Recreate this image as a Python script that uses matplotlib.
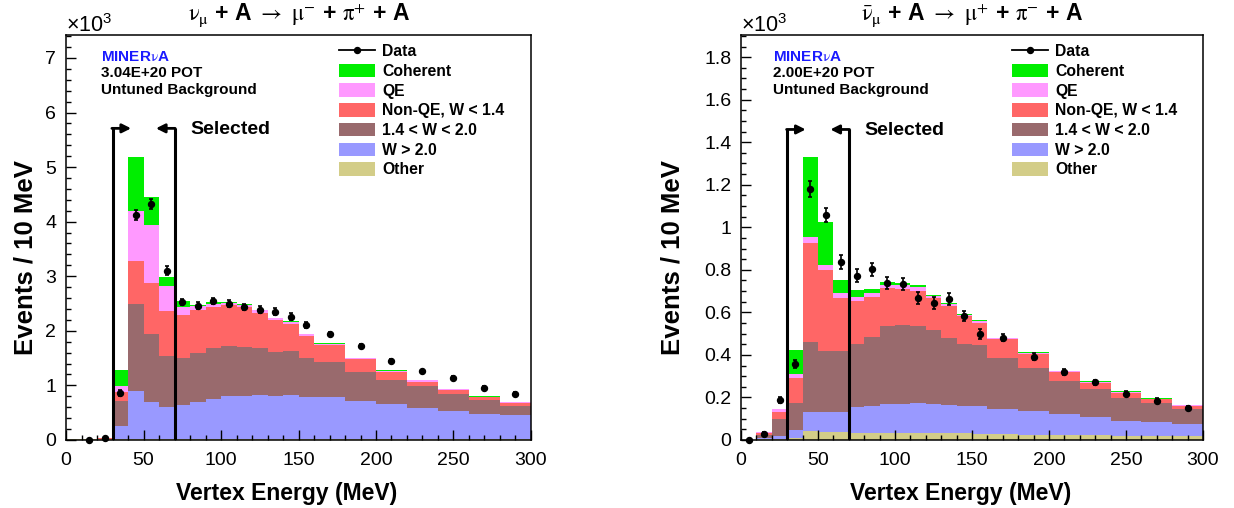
import numpy as np
import matplotlib
matplotlib.use("Agg")
import matplotlib.pyplot as plt
from matplotlib.patches import Patch
from matplotlib.lines import Line2D

plt.rcParams['font.family'] = 'Liberation Sans'
plt.rcParams['mathtext.fontset'] = 'custom'
plt.rcParams['mathtext.rm'] = 'Liberation Sans'
plt.rcParams['mathtext.it'] = 'Liberation Sans'
plt.rcParams['mathtext.bf'] = 'Liberation Sans:bold'

# bin edges (MeV): 10 MeV bins up to 160, then 20 MeV bins; y in 10^3 events / 10 MeV
edges = [0, 10, 20, 30, 40, 50, 60, 70, 80, 90, 100, 110, 120, 130, 140, 150, 160,
         180, 200, 220, 240, 260, 280, 300]

components = ["Other", "W > 2.0", "1.4 < W < 2.0", "Non-QE, W < 1.4", "QE", "Coherent"]
colors = ["#d3cd88", "#9999ff", "#996a6d", "#ff6666", "#ff99ff", "#00ee00"]

# neutrino sample
nu_other = [0.01, 0.01, 0.01, 0.02, 0.02, 0.02, 0.02, 0.02, 0.02, 0.02, 0.02, 0.02,
            0.02, 0.02, 0.02, 0.02, 0.02, 0.02, 0.02, 0.02, 0.02, 0.02, 0.02]
nu_whigh = [0.0, 0.0, 0.0, 0.24, 0.88, 0.68, 0.59, 0.62, 0.68, 0.73, 0.79, 0.79,
            0.80, 0.79, 0.80, 0.77, 0.76, 0.69, 0.63, 0.57, 0.51, 0.46, 0.43]
nu_wmid = [0.0, 0.005, 0.015, 0.45, 1.59, 1.24, 0.92, 0.87, 0.89, 0.94, 0.91, 0.90,
           0.87, 0.81, 0.81, 0.72, 0.64, 0.54, 0.45, 0.39, 0.31, 0.25, 0.18]
nu_wlow = [0.0, 0.005, 0.015, 0.16, 0.79, 0.94, 0.84, 0.78, 0.79, 0.75, 0.75, 0.72,
           0.64, 0.57, 0.49, 0.40, 0.32, 0.23, 0.15, 0.09, 0.08, 0.05, 0.04]
nu_qe = [0.0, 0.0, 0.0, 0.11, 0.91, 1.06, 0.45, 0.15, 0.07, 0.06, 0.04, 0.05,
         0.05, 0.04, 0.05, 0.03, 0.02, 0.02, 0.02, 0.02, 0.01, 0.01, 0.02]
nu_coh = [0.0, 0.0, 0.0, 0.31, 1.00, 0.52, 0.17, 0.11, 0.03, 0.03, 0.02, 0.01,
          0.01, 0.01, 0.01, 0.01, 0.01, 0.01, 0.01, 0.01, 0.01, 0.01, 0.01]
nu_data = [np.nan, 0.0, 0.03, 0.86, 4.12, 4.33, 3.10, 2.53, 2.46, 2.55, 2.50, 2.44,
           2.39, 2.35, 2.26, 2.11, 1.94, 1.72, 1.45, 1.26, 1.14, 0.96, 0.84]
nu_err = [0.0, 0.01, 0.02, 0.05, 0.09, 0.09, 0.08, 0.06, 0.06, 0.06, 0.06, 0.06,
          0.06, 0.06, 0.06, 0.06, 0.04, 0.04, 0.04, 0.03, 0.03, 0.03, 0.03]

# antineutrino sample
nub_other = [0.0, 0.005, 0.003, 0.011, 0.042, 0.036, 0.035, 0.031, 0.031, 0.031, 0.031, 0.031,
             0.031, 0.031, 0.031, 0.028, 0.026, 0.025, 0.024, 0.022, 0.020, 0.019, 0.017]
nub_whigh = [0.0, 0.005, 0.017, 0.036, 0.091, 0.097, 0.098, 0.123, 0.129, 0.137, 0.138, 0.141,
             0.137, 0.132, 0.130, 0.132, 0.120, 0.111, 0.098, 0.085, 0.071, 0.067, 0.058]
nub_wmid = [0.0, 0.015, 0.077, 0.125, 0.329, 0.287, 0.285, 0.296, 0.326, 0.368, 0.372, 0.366,
            0.349, 0.318, 0.290, 0.287, 0.241, 0.204, 0.157, 0.131, 0.108, 0.086, 0.071]
nub_wlow = [0.0, 0.009, 0.036, 0.118, 0.466, 0.380, 0.248, 0.204, 0.188, 0.177, 0.169, 0.162,
            0.149, 0.151, 0.131, 0.105, 0.086, 0.064, 0.042, 0.031, 0.023, 0.019, 0.015]
nub_qe = [0.0, 0.003, 0.013, 0.019, 0.028, 0.023, 0.024, 0.020, 0.019, 0.016, 0.017, 0.020,
          0.011, 0.008, 0.006, 0.008, 0.005, 0.006, 0.003, 0.005, 0.005, 0.003, 0.003]
nub_coh = [0.0, 0.0, 0.0, 0.114, 0.376, 0.203, 0.062, 0.031, 0.017, 0.012, 0.010, 0.007,
           0.003, 0.003, 0.002, 0.003, 0.002, 0.002, 0.002, 0.001, 0.001, 0.001, 0.001]
nub_data = [0.0, 0.027, 0.188, 0.356, 1.18, 1.058, 0.838, 0.773, 0.802, 0.740, 0.733, 0.666,
            0.643, 0.663, 0.583, 0.498, 0.481, 0.392, 0.320, 0.271, 0.218, 0.185, 0.152]
nub_err = [0.005, 0.008, 0.012, 0.02, 0.037, 0.035, 0.033, 0.03, 0.03, 0.028, 0.028, 0.028,
           0.027, 0.027, 0.025, 0.025, 0.016, 0.015, 0.013, 0.012, 0.010, 0.010, 0.009]

cut_low, cut_high = 30, 70

panels = [
    dict(stack=[nu_other, nu_whigh, nu_wmid, nu_wlow, nu_qe, nu_coh], data=nu_data, err=nu_err,
         ymax=7.42, major=1, minor=0.2, pot="3.04E+20 POT", cut_y=5.71, sel_y=5.68,
         title=r"$\mathrm{\nu_{\mu}}$ + A $\rightarrow$ $\mathrm{\mu^{-}}$ + $\mathrm{\pi^{+}}$ + A",
         rect=[0.0535, 0.134, 0.3768, 0.797], txt_x=0.0746, ylab_x=-0.062),
    dict(stack=[nub_other, nub_whigh, nub_wmid, nub_wlow, nub_qe, nub_coh], data=nub_data, err=nub_err,
         ymax=1.904, major=0.2, minor=0.05, pot="2.00E+20 POT", cut_y=1.46, sel_y=1.457,
         title=r"$\mathrm{\bar{\nu}_{\mu}}$ + A $\rightarrow$ $\mathrm{\mu^{+}}$ + $\mathrm{\pi^{-}}$ + A",
         rect=[0.6005, 0.134, 0.3744, 0.797], txt_x=0.069, ylab_x=-0.123),
]

fig = plt.figure(figsize=(12.34, 5.08), dpi=100)
centers = 0.5 * (np.array(edges[:-1]) + np.array(edges[1:]))

for p in panels:
    ax = fig.add_axes(p["rect"])
    base = np.zeros(len(centers))
    for vals, col in zip(p["stack"], colors):
        top = base + np.array(vals)
        ax.stairs(top, edges, baseline=base, fill=True, color=col, linewidth=0)
        base = top
    ax.errorbar(centers, p["data"], yerr=p["err"], fmt='o', color='k', ms=4.3,
                elinewidth=1.2, capsize=1.5, capthick=1.2, clip_on=False, zorder=5)

    # selection cut lines with arrows
    for xc, direction in [(cut_low, 1), (cut_high, -1)]:
        ax.plot([xc, xc], [0, p["cut_y"]], color='k', lw=2.2, solid_capstyle='butt', zorder=6)
        ax.annotate('', xy=(xc + direction * 12, p["cut_y"]), xytext=(xc - direction * 0.4, p["cut_y"]),
                    arrowprops=dict(arrowstyle='-|>', lw=2.0, color='k', mutation_scale=13,
                                    shrinkA=0, shrinkB=0), zorder=6)
    ax.text(80, p["sel_y"], "Selected", fontsize=14, fontweight='bold', va='center', ha='left')

    ax.set_xlim(0, 300)
    ax.set_ylim(0, p["ymax"])
    ax.set_xticks(np.arange(0, 301, 50))
    ax.set_xticks(np.arange(0, 301, 10), minor=True)
    ax.set_yticks(np.arange(0, p["ymax"], p["major"]))
    ax.set_yticks(np.arange(0, p["ymax"], p["minor"]), minor=True)
    ax.yaxis.set_major_formatter(plt.FuncFormatter(lambda v, pos: f"{v:g}"))
    ax.tick_params(which='both', direction='in', top=False, right=False, labelsize=14)
    ax.tick_params(axis='x', pad=9)
    ax.tick_params(axis='y', pad=7)
    ax.tick_params(which='major', length=7, width=1)
    ax.tick_params(which='minor', length=3.6, width=1)
    for s in ax.spines.values():
        s.set_linewidth(1.1)

    ax.set_xlabel("Vertex Energy (MeV)", fontsize=16.5, fontweight='bold')
    ax.xaxis.set_label_coords(0.475, -0.105)
    ax.set_ylabel("Events / 10 MeV", fontsize=18.5, fontweight='bold')
    ax.yaxis.set_label_coords(p["ylab_x"], 0.45)

    ax.text(0.0, 1.007, r"$\times10^{3}$", transform=ax.transAxes, fontsize=15.5,
            ha='left', va='baseline', math_fontfamily='custom')
    ax.text(0.5, 1.05, p["title"], transform=ax.transAxes, fontsize=16.5, fontweight='bold',
            ha='center', va='center', math_fontfamily='stix')

    ax.text(p["txt_x"], 0.946, r"MINER$\mathrm{\nu}$A", transform=ax.transAxes, color='#1a1aff',
            fontsize=11, fontweight='bold', va='center', math_fontfamily='stix')
    ax.text(p["txt_x"], 0.906, p["pot"], transform=ax.transAxes, fontsize=11,
            fontweight='bold', va='center')
    ax.text(p["txt_x"], 0.864, "Untuned Background", transform=ax.transAxes, fontsize=11,
            fontweight='bold', va='center')

    handles = [Line2D([], [], color='k', marker='o', ms=4.3, lw=1.3)]
    labels = ["Data"]
    for name, col in list(zip(components, colors))[::-1]:
        handles.append(Patch(facecolor=col, edgecolor='none'))
        labels.append(name)
    ax.legend(handles, labels, loc='upper left', bbox_to_anchor=(0.587, 0.978), frameon=False,
              prop=dict(weight='bold', size=11.3), handlelength=2.3, handleheight=0.95,
              handletextpad=0.45, labelspacing=0.29, borderaxespad=0, borderpad=0)

fig.savefig("out.png", dpi=100)
